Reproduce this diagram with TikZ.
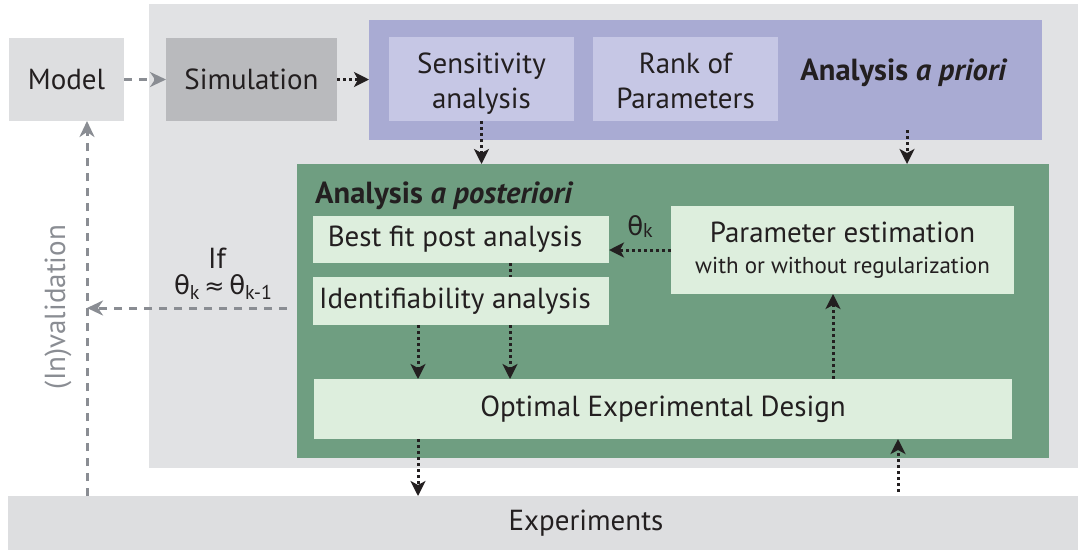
\documentclass[tikz,border=0pt]{standalone}
\usepackage{fontspec}
\setmainfont{PT Sans}
\newfontfamily\greekfont{DejaVu Sans}
\usetikzlibrary{arrows.meta, positioning}

\definecolor{ink}{HTML}{231F20}
\definecolor{panelgray}{HTML}{E1E2E4}
\definecolor{boxgray}{HTML}{DDDEE0}
\definecolor{simgray}{HTML}{B9BABD}
\definecolor{linegray}{HTML}{8A8D93}
\definecolor{prioriblue}{HTML}{A9ABD3}
\definecolor{sensblue}{HTML}{C6C7E5}
\definecolor{postgreen}{HTML}{6F9E81}
\definecolor{boxgreen}{HTML}{DDEEDD}

\newcommand{\thsub}[1]{{\greekfont\fontsize{26}{28}\selectfont θ}\raisebox{-0.35ex}{\fontsize{20}{22}\selectfont #1}}

\begin{document}
\begin{tikzpicture}[x=1pt, y=-1pt, >=Stealth,
  panel/.style={inner sep=0pt, outer sep=0pt},
  box/.style={inner sep=0pt, outer sep=0pt, align=center, text=ink,
    font=\fontsize{29}{35}\selectfont},
  label/.style={inner sep=0pt, text=ink, font=\fontsize{30.5}{34}\selectfont\bfseries},
  dotarrow/.style={-{Stealth[length=15pt, width=15pt, inset=4pt]}, ink,
    line width=3pt, dash pattern=on 3pt off 3pt},
  dotline/.style={ink, line width=3pt, dash pattern=on 3pt off 3pt},
  graydash/.style={-{Stealth[length=16pt, width=15pt, inset=5pt]}, linegray,
    line width=3pt, dash pattern=on 8pt off 7pt}]
  \useasboundingbox (0,0) rectangle (1078,550);

  % ---- Background panels ----
  \node[panel, fill=panelgray, minimum width=929pt, minimum height=464pt] (outer) at (613.5,236) {};
  \node[box, fill=boxgray, minimum width=1070pt, minimum height=54pt] (exper) at (543,523) {};
  \node[box] (expertext) at (586,523) {Experiments};

  % ---- Model and simulation ----
  \node[box, fill=boxgray, minimum width=115pt, minimum height=83pt] (model) at (66.5,79.5) {Model};
  \node[box, fill=simgray, minimum width=171pt, minimum height=83pt] (sim) at (251.5,79.5) {Simulation};

  % ---- Analysis a priori ----
  \node[panel, fill=prioriblue, minimum width=673pt, minimum height=120pt] (priori) at (705.5,80) {};
  \node[box, fill=sensblue, minimum width=185pt, minimum height=84pt] (sens) at (481.5,79) {};
  \node[box] (senstext) at ([yshift=-5pt]sens) {Sensitivity\\analysis};
  \node[box, fill=sensblue, minimum width=185pt, minimum height=84pt] (rank) at (685.5,79) {};
  \node[box] (ranktext) at ([yshift=-2pt]rank) {Rank of\\Parameters};
  \node[label, anchor=base] (priorilab) at (904,80) {Analysis \textit{a priori}};

  % ---- Analysis a posteriori ----
  \node[panel, fill=postgreen, minimum width=752pt, minimum height=294pt] (post) at (673,311) {};
  \node[label, anchor=base west] (postlab) at (315,203) {Analysis \textit{a posteriori}};
  \node[box, fill=boxgreen, minimum width=296pt, minimum height=47pt] (bestfit) at (461,239.5) {Best fit post analysis\hspace*{12pt}};
  \node[box, fill=boxgreen, minimum width=296pt, minimum height=48pt] (ident) at (461,301) {Identifiability analysis\hspace*{12pt}};
  \node[box, fill=boxgreen, minimum width=343pt, minimum height=88pt] (param) at (842.5,250)
    {Parameter estimation\\[-4pt]{\fontsize{23}{27}\selectfont with or without regularization}};
  \node[box, fill=boxgreen, minimum width=698pt, minimum height=60pt] (oed) at (663,409) {Optimal Experimental Design};

  % ---- Convergence test ----
  \node[box] (iflab) at (217,258) {If};
  \node[box] (thetalab) at (223,287) {\thsub{k}\,{\greekfont\fontsize{24}{28}\selectfont ≈}\,\thsub{k-1}};
  \node[box, text=linegray, rotate=90] (invalid) at (58,307) {(In)validation};

  % ---- Connectors ----
  \coordinate (xv) at (87,0);
  \coordinate (xa) at (418,0);
  \coordinate (xb) at (510,0);
  \coordinate (xp) at (833,0);
  \coordinate (xu) at (898,0);
  \coordinate (prioriout) at (907,130);
  \coordinate (convstart) at (287,308);

  \draw[graydash] (model) -- (sim);
  \draw[dotarrow] (sim) -- (sim.east -| priori.west);
  \draw[dotarrow] (sens) -- (sens.south |- post.north);
  \draw[dotarrow] (prioriout) -- (prioriout |- post.north);
  \draw[dotarrow] (param.west) -- (param.west -| bestfit.east)
    node[midway, above=8pt, text=ink] (thetak) {\thsub{k}};
  \draw[dotline] (bestfit.south -| xb) -- (ident.north -| xb);
  \draw[dotarrow] (ident.south -| xa) -- (oed.north -| xa);
  \draw[dotarrow] (ident.south -| xb) -- (oed.north -| xb);
  \draw[dotarrow] (oed.north -| xp) -- (param.south -| xp);
  \draw[dotarrow] (oed.south -| xa) -- (exper.north -| xa);
  \draw[dotarrow] ([yshift=4pt]exper.north -| xu) -- (oed.south -| xu);
  \draw[graydash] (convstart) -- (convstart -| xv);
  \draw[graydash] (exper.north -| xv) -- (model.south -| xv);
\end{tikzpicture}
\end{document}
